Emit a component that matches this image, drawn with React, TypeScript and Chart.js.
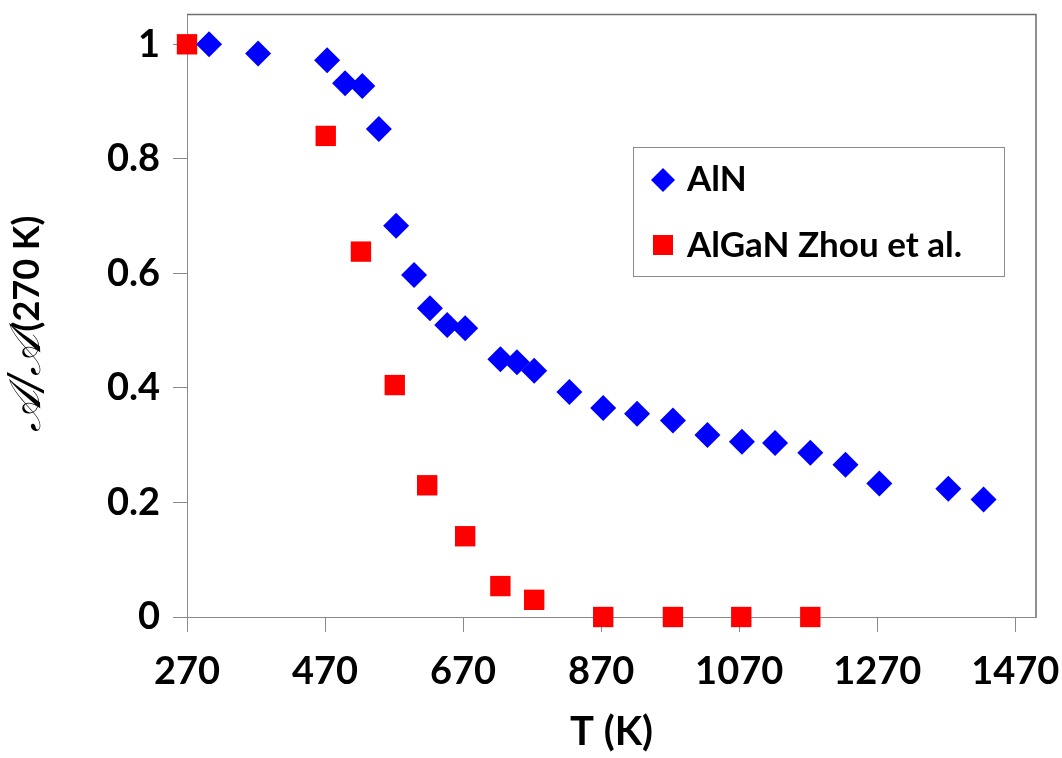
import React, { useEffect, useRef } from "react";
import { Chart, registerables } from "chart.js";

Chart.register(...registerables);

// ---- data ----
const alnT = [302, 373, 473, 499, 524, 548, 573, 599, 622, 647, 673, 724, 748, 773, 824, 873, 922, 974, 1024, 1074, 1122, 1173, 1224, 1273, 1373, 1424];
const alnRatio = [1.0, 0.984, 0.972, 0.932, 0.927, 0.852, 0.683, 0.597, 0.539, 0.51, 0.504, 0.45, 0.445, 0.43, 0.393, 0.365, 0.355, 0.343, 0.318, 0.306, 0.304, 0.287, 0.266, 0.233, 0.224, 0.205];
const alganT = [270, 471, 522, 571, 618, 673, 724, 773, 873, 974, 1073, 1173];
const alganRatio = [1.0, 0.84, 0.638, 0.405, 0.23, 0.141, 0.054, 0.03, 0, 0, 0, 0];
const xTicks = [270, 470, 670, 870, 1070, 1270, 1470];
const yTicks = [0, 0.2, 0.4, 0.6, 0.8, 1];
const seriesLabels = ["AlN", "AlGaN Zhou et al."];
const xTitle = "T (K)";
const yTitleScript = "𝒜/𝒜";
const yTitleRest = "(270 K)";

const W = 1062;
const H = 758;
const SANS = "Lato, 'Open Sans', 'DejaVu Sans', sans-serif";
const AXIS_GREY = "#8a8a8a";

const framePlugin = {
  id: "frame",
  beforeDatasetsDraw(chart: any) {
    const { ctx, chartArea } = chart;
    ctx.save();
    ctx.strokeStyle = "#6e6e6e";
    ctx.lineWidth = 1.5;
    ctx.beginPath();
    ctx.moveTo(chartArea.left, chartArea.top);
    ctx.lineTo(chartArea.right, chartArea.top);
    ctx.lineTo(chartArea.right, chartArea.bottom);
    ctx.stroke();
    ctx.restore();
  },
};

const legendPlugin = {
  id: "boxLegend",
  afterDraw(chart: any) {
    const { ctx } = chart;
    ctx.save();
    const bx = 633, by = 147, bw = 371, bh = 129;
    ctx.fillStyle = "#fff";
    ctx.fillRect(bx, by, bw, bh);
    ctx.strokeStyle = "#8a8a8a";
    ctx.lineWidth = 1;
    ctx.strokeRect(bx + 0.5, by + 0.5, bw, bh);

    const ds = chart.data.datasets;
    ctx.fillStyle = ds[0].backgroundColor;
    ctx.beginPath();
    const cx = 663, cy1 = 180, r = 12;
    ctx.moveTo(cx, cy1 - r);
    ctx.lineTo(cx + r, cy1);
    ctx.lineTo(cx, cy1 + r);
    ctx.lineTo(cx - r, cy1);
    ctx.closePath();
    ctx.fill();
    ctx.fillStyle = ds[1].backgroundColor;
    ctx.fillRect(cx - 10, 245 - 10, 20, 20);

    ctx.fillStyle = "#000";
    ctx.font = `bold 35px ${SANS}`;
    ctx.textAlign = "left";
    ctx.textBaseline = "alphabetic";
    ctx.fillText(ds[0].label, 687, 191);
    ctx.fillText(ds[1].label, 687, 257);
    ctx.restore();
  },
};

const yTitlePlugin = {
  id: "yTitle",
  afterDraw(chart: any) {
    const { ctx } = chart;
    ctx.save();
    const f1 = "italic 44px 'DejaVu Serif', 'Liberation Serif', serif";
    const f2 = `bold 36px ${SANS}`;
    ctx.font = f1;
    const w1 = ctx.measureText(yTitleScript).width;
    ctx.font = f2;
    const w2 = ctx.measureText(yTitleRest).width;
    const total = w1 + w2;
    ctx.translate(0, 325);
    ctx.rotate(-Math.PI / 2);
    ctx.fillStyle = "#000";
    ctx.textAlign = "left";
    ctx.textBaseline = "alphabetic";
    ctx.font = f1;
    ctx.fillText(yTitleScript, -total / 2, 40);
    ctx.font = f2;
    ctx.fillText(yTitleRest, -total / 2 + w1 + 2, 39);
    ctx.restore();
  },
};

export default function App() {
  const ref = useRef<HTMLCanvasElement | null>(null);

  useEffect(() => {
    if (!ref.current) return;
    const chart = new Chart(ref.current, {
      type: "scatter",
      data: {
        datasets: [
          {
            label: seriesLabels[0],
            data: alnT.map((x, i) => ({ x, y: alnRatio[i] })),
            pointStyle: "rectRot",
            pointRadius: 13,
            backgroundColor: "#0000FF",
            borderColor: "#0000FF",
            borderWidth: 0,
            showLine: false,
            clip: false,
          },
          {
            label: seriesLabels[1],
            data: alganT.map((x, i) => ({ x, y: alganRatio[i] })),
            pointStyle: "rect",
            pointRadius: 14.4,
            backgroundColor: "#FF0000",
            borderColor: "#FF0000",
            borderWidth: 0,
            showLine: false,
            clip: false,
          },
        ],
      },
      options: {
        animation: false,
        responsive: false,
        events: [],
        layout: { padding: { top: 12, right: 26, left: 0, bottom: 0 } },
        plugins: { legend: { display: false }, tooltip: { enabled: false } },
        scales: {
          x: {
            type: "linear",
            min: 270,
            max: 1500,
            afterBuildTicks: (s: any) => {
              s.ticks = xTicks.map((v) => ({ value: v }));
            },
            afterFit: (s: any) => {
              s.height = H - 617;
              s.paddingLeft = 0;
              s.paddingRight = 0;
            },
            grid: { display: true, drawOnChartArea: false, drawTicks: true, tickLength: 15, color: AXIS_GREY },
            border: { display: true, color: AXIS_GREY, width: 1 },
            ticks: {
              color: "#000",
              font: { family: SANS, size: 38, weight: "bold" },
              padding: 17,
              maxRotation: 0,
              autoSkip: false,
              callback: (v: any) => String(v),
            },
            title: {
              display: true,
              text: xTitle,
              color: "#000",
              font: { family: SANS, size: 40, weight: "bold" },
              padding: { top: 0, bottom: 2 },
            },
          },
          y: {
            type: "linear",
            min: 0,
            max: 1.0522,
            afterBuildTicks: (s: any) => {
              s.ticks = yTicks.map((v) => ({ value: v }));
            },
            afterFit: (s: any) => {
              s.width = 187;
              s.paddingTop = 0;
              s.paddingBottom = 0;
            },
            grid: { display: true, drawOnChartArea: false, drawTicks: true, tickLength: 14, color: AXIS_GREY },
            border: { display: true, color: AXIS_GREY, width: 1 },
            ticks: {
              color: "#000",
              font: { family: SANS, size: 38, weight: "bold" },
              padding: 13,
              autoSkip: false,
              callback: (v: any) => String(v),
            },
            title: { display: false },
          },
        },
      },
      plugins: [framePlugin, legendPlugin, yTitlePlugin],
    } as any);
    return () => chart.destroy();
  }, []);

  return (
    <div style={{ position: "absolute", left: 0, top: 0, width: W, height: H, background: "#fff" }}>
      <canvas ref={ref} width={W} height={H} style={{ width: W, height: H, display: "block" }} />
    </div>
  );
}
